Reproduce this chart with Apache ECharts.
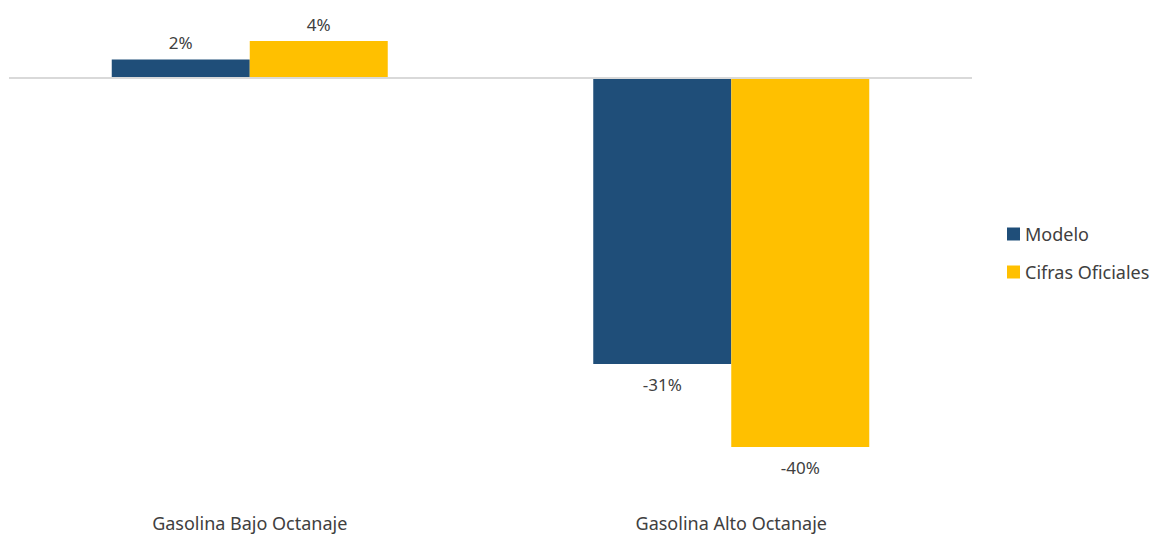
<!DOCTYPE html>
<html>
<head>
    <meta charset="utf-8">
    <title>Gasolina</title>
    <script src="https://cdn.jsdelivr.net/npm/echarts@6/dist/echarts.min.js"></script>
</head>
<body style="margin:0">
<div id="main" style="width: 1162px;height:534px;"></div>
<script type="text/javascript">
    // datos
    var categories = ['Gasolina Bajo Octanaje', 'Gasolina Alto Octanaje'];
    var seriesNames = ['Modelo', 'Cifras Oficiales'];
    var modelo = [2, -31];
    var cifrasOficiales = [4, -40];
    var colors = ['#1F4E79', '#FFC000'];

    var textColor = '#404040';
    var font = 'Noto Sans';

    function toItems(values) {
        return values.map(function (v) {
            return {
                value: v,
                label: { position: v >= 0 ? 'top' : 'bottom', distance: v >= 0 ? 8 : 12 }
            };
        });
    }

    var myChart = echarts.init(document.getElementById('main'), null, {renderer: 'svg'});
    var option = {
        animation: false,
        textStyle: { fontFamily: font, color: textColor },
        legend: {
            orient: 'vertical',
            left: 1007,
            top: 225,
            padding: 0,
            itemWidth: 13,
            itemHeight: 13,
            itemGap: 20,
            icon: 'rect',
            textStyle: { fontFamily: font, fontSize: 18, color: textColor },
            data: seriesNames
        },
        grid: { left: 9, right: 190, top: 4, bottom: 50 },
        xAxis: {
            type: 'category',
            data: categories,
            axisLine: { show: false, onZero: false },
            axisTick: { show: false },
            axisLabel: { margin: 30, fontSize: 18, color: textColor, fontFamily: font }
        },
        yAxis: {
            type: 'value',
            min: -44,
            max: 8,
            show: false,
            splitLine: { show: false }
        },
        series: [
            {
                name: seriesNames[0],
                type: 'bar',
                barWidth: 138,
                barGap: 0,
                itemStyle: { color: colors[0] },
                label: { show: true, formatter: '{c}%', fontSize: 17, color: textColor, fontFamily: font },
                data: toItems(modelo),
                markLine: {
                    silent: true,
                    symbol: 'none',
                    label: { show: false },
                    lineStyle: { color: '#D9D9D9', width: 2, type: 'solid' },
                    data: [{ yAxis: 0 }]
                }
            },
            {
                name: seriesNames[1],
                type: 'bar',
                barWidth: 138,
                barGap: 0,
                itemStyle: { color: colors[1] },
                label: { show: true, formatter: '{c}%', fontSize: 17, color: textColor, fontFamily: font },
                data: toItems(cifrasOficiales)
            }
        ]
    };
    myChart.setOption(option);
</script>
</body>
</html>
